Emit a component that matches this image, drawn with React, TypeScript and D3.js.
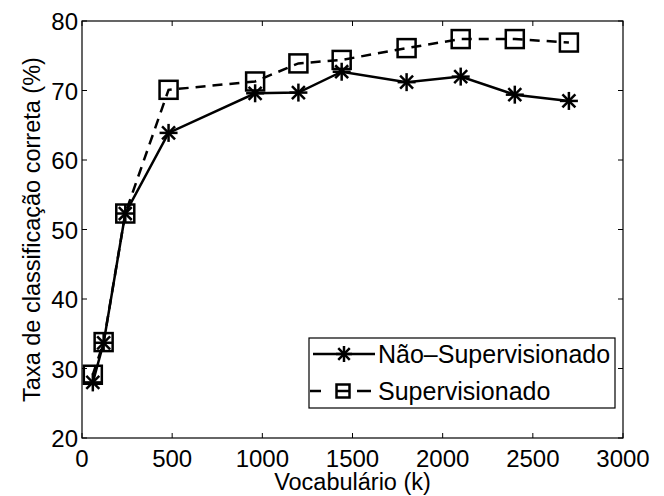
import React from 'react';
import * as d3 from 'd3';

// vocabulary sizes (k) and accuracy (%) for both methods
const vocab = [60, 120, 240, 480, 960, 1200, 1440, 1800, 2100, 2400, 2700];
const naoSupervisionado = [28.0, 33.7, 52.3, 63.9, 69.6, 69.7, 72.7, 71.2, 72.0, 69.4, 68.5];
const supervisionado = [29.1, 33.8, 52.3, 70.1, 71.3, 73.9, 74.4, 76.1, 77.4, 77.4, 76.9];
const xTicks = [0, 500, 1000, 1500, 2000, 2500, 3000];
const yTicks = [20, 30, 40, 50, 60, 70, 80];
const legendLabels = ['Não\u2013Supervisionado', 'Supervisionado'];

const W = 664;
const H = 496;
const margin = { top: 21, right: 41, bottom: 58, left: 82 };
const FONT = '"Liberation Sans", Arial, Helvetica, sans-serif';

const Star = ({ x, y, r }: { x: number; y: number; r: number }) => {
  const d = r * 0.72;
  return (
    <g stroke="#000" strokeWidth={2.5}>
      <line x1={x - r} y1={y} x2={x + r} y2={y} />
      <line x1={x} y1={y - r} x2={x} y2={y + r} />
      <line x1={x - d} y1={y - d} x2={x + d} y2={y + d} />
      <line x1={x - d} y1={y + d} x2={x + d} y2={y - d} />
    </g>
  );
};

const Square = ({ x, y, s }: { x: number; y: number; s: number }) => (
  <rect x={x - s / 2} y={y - s / 2} width={s} height={s} fill="none" stroke="#000" strokeWidth={2.5} />
);

export default function App() {
  const x = d3.scaleLinear().domain([0, 3000]).range([margin.left, W - margin.right]);
  const y = d3.scaleLinear().domain([20, 80]).range([H - margin.bottom, margin.top]);

  const line = d3.line<number>()
    .x((_, i) => x(vocab[i]))
    .y(d => y(d));

  const x0 = x(0), x1 = x(3000), y0 = y(20), y1 = y(80);
  const tick = 5;

  // legend box
  const lg = { left: 309, top: 338, right: 615, bottom: 408 };
  const row1 = 354, row2 = 391;

  return (
    <svg width={W} height={H} style={{ position: 'absolute', left: 0, top: 0, background: '#fff' }}
      fontFamily={FONT}>
      <rect x={0} y={0} width={W} height={H} fill="#fff" />

      {/* axes box with inward ticks */}
      <rect x={x0} y={y1} width={x1 - x0} height={y0 - y1} fill="none" stroke="#000" strokeWidth={1.2} />
      {xTicks.map(t => (
        <g key={'x' + t}>
          <line x1={x(t)} x2={x(t)} y1={y0} y2={y0 - tick} stroke="#000" strokeWidth={1} />
          <line x1={x(t)} x2={x(t)} y1={y1} y2={y1 + tick} stroke="#000" strokeWidth={1} />
          <text x={x(t)} y={y0 + 29} textAnchor="middle" fontSize={24}>{t}</text>
        </g>
      ))}
      {yTicks.map(t => (
        <g key={'y' + t}>
          <line x1={x0} x2={x0 + tick} y1={y(t)} y2={y(t)} stroke="#000" strokeWidth={1} />
          <line x1={x1} x2={x1 - tick} y1={y(t)} y2={y(t)} stroke="#000" strokeWidth={1} />
          <text x={x0 - 4} y={y(t) + 9} textAnchor="end" fontSize={24}>{t}</text>
        </g>
      ))}

      {/* axis labels */}
      <text x={(x0 + x1) / 2} y={H - 6} textAnchor="middle" fontSize={23.5}>Vocabulário (k)</text>
      <text transform={`translate(40, ${(y0 + y1) / 2}) rotate(-90)`} textAnchor="middle" fontSize={23.5}>
        Taxa de classificação correta (%)
      </text>

      {/* series */}
      <path d={line(naoSupervisionado) || ''} fill="none" stroke="#000" strokeWidth={2.5} />
      <path d={line(supervisionado) || ''} fill="none" stroke="#000" strokeWidth={2.5} strokeDasharray="10,7" />
      {naoSupervisionado.map((v, i) => <Star key={'s' + i} x={x(vocab[i])} y={y(v)} r={9} />)}
      {supervisionado.map((v, i) => <Square key={'q' + i} x={x(vocab[i])} y={y(v)} s={18} />)}

      {/* legend */}
      <rect x={lg.left} y={lg.top} width={lg.right - lg.left} height={lg.bottom - lg.top}
        fill="#fff" stroke="#000" strokeWidth={1.2} />
      <line x1={313} x2={375} y1={row1} y2={row1} stroke="#000" strokeWidth={2.5} />
      <Star x={344} y={row1} r={8} />
      <g stroke="#000" strokeWidth={2.5}>
        <line x1={310} x2={321} y1={row2} y2={row2} />
        <line x1={337} x2={349} y1={row2} y2={row2} />
        <line x1={357} x2={371} y1={row2} y2={row2} />
      </g>
      <Square x={343} y={row2} s={13} />
      <text x={378} y={row1 + 9} fontSize={25}>{legendLabels[0]}</text>
      <text x={378} y={row2 + 9} fontSize={25}>{legendLabels[1]}</text>
    </svg>
  );
}
